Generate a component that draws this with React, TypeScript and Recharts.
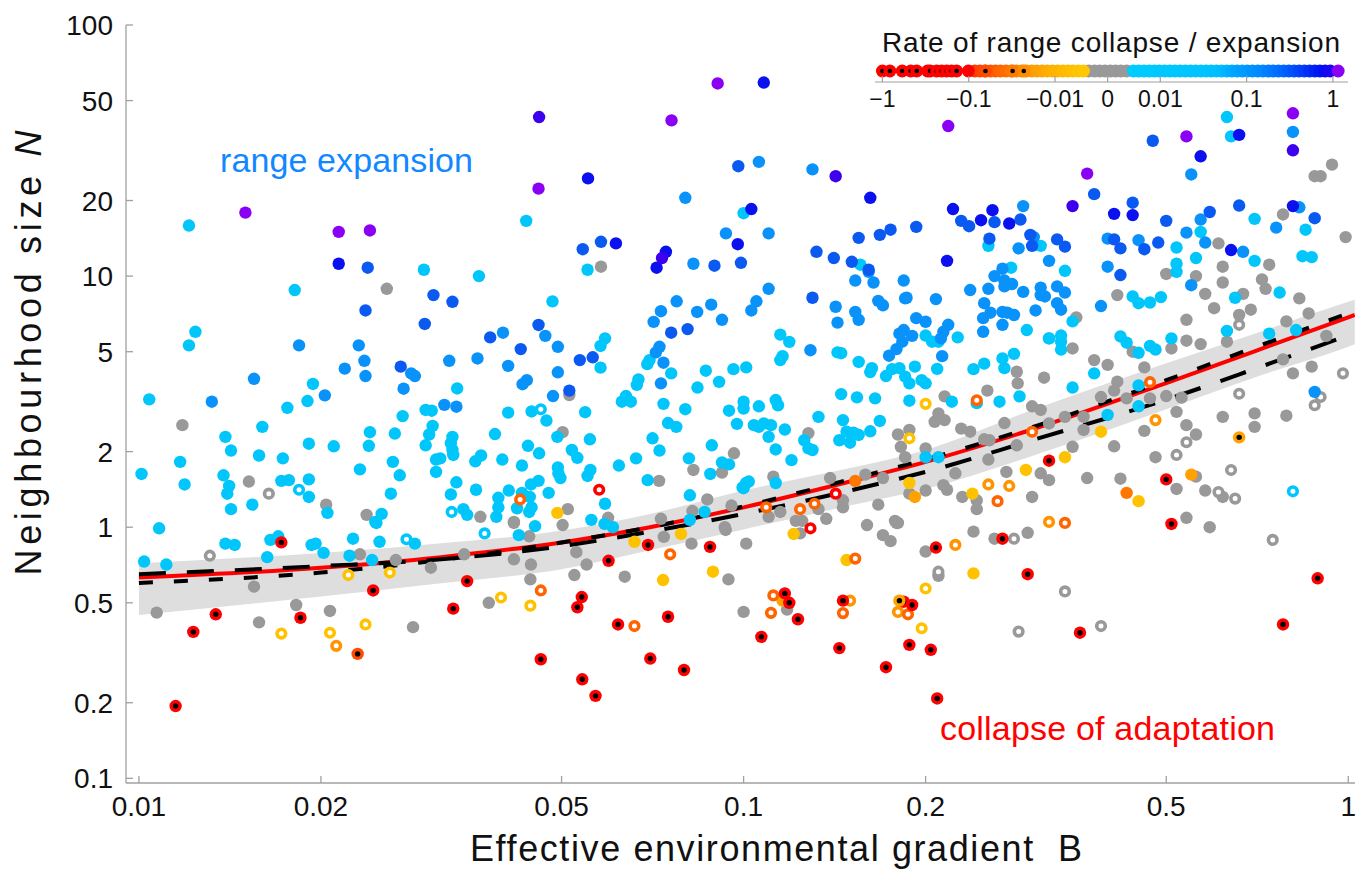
import React from 'react';
import { ComposedChart, ScatterChart, Scatter, Line, Area, XAxis, YAxis } from 'recharts';

const FONT = '"Liberation Sans", Arial, Helvetica, sans-serif';
const AXIS = '#a0a0a0';

const xTicks = [0.01, 0.02, 0.05, 0.1, 0.2, 0.5, 1];
const yTicks = [0.1, 0.2, 0.5, 1, 2, 5, 10, 20, 50, 100];

// fitted curves
const curveB = [0.01, 0.02, 0.0316, 0.05, 0.07, 0.1, 0.15, 0.2, 0.3, 0.5, 0.7, 1.0, 1.025];
const redFit = [0.63, 0.69, 0.76, 0.87, 1.0, 1.2, 1.52, 1.82, 2.45, 3.75, 5.02, 6.85, 7.0];
const dashLong = [0.65, 0.7, 0.745, 0.84, 0.96, 1.13, 1.4, 1.66, 2.22, 3.22, 4.27, 5.82, 5.95];
const dashShort = [0.6, 0.66, 0.74, 0.87, 1.0, 1.21, 1.55, 1.86, 2.5, 3.85, 5.2, 7.1, 7.25];
const bandLo = [0.447, 0.53, 0.598, 0.68, 0.81, 0.98, 1.22, 1.42, 1.92, 2.95, 3.95, 5.23, 5.35];
const bandHi = [0.718, 0.79, 0.863, 0.97, 1.13, 1.4, 1.72, 2.03, 2.93, 4.5, 5.9, 7.9, 8.05];

// simulation runs: [B, N], grouped by rate colour
const purplePts = [[0.015, 17.9], [0.0214, 15.0], [0.0241, 15.2], [0.0906, 58.5], [0.076, 41.7], [0.0458, 22.3], [0.218, 39.6], [0.54, 36], [0.37, 25.6], [0.81, 44.5]];
const indigoPts = [[0.0459, 43], [0.0733, 11.8], [0.142, 25.0], [0.81, 31.7], [0.35, 19]];
const darkbluePts = [[0.0214, 11.2], [0.0553, 24.5], [0.0615, 13.5], [0.0744, 12.5], [0.0718, 10.8], [0.0978, 13.4], [0.108, 59], [0.162, 20.5], [0.103, 18.5], [0.222, 18.5], [0.247, 16.7], [0.258, 18.3], [0.275, 16.2], [0.217, 11.5], [0.66, 36.5], [0.57, 30], [0.41, 17.7], [0.44, 17.5], [0.64, 12.7], [0.81, 19]];
const bluePts = [[0.0239, 10.8], [0.098, 27.4], [0.0542, 12.8], [0.0581, 13.7], [0.0895, 11.0], [0.099, 11.3], [0.229, 16.6], [0.236, 15.8], [0.26, 16.4], [0.287, 16.8], [0.298, 14.6], [0.3, 13.2], [0.255, 14.1], [0.193, 15.7], [0.175, 15.3], [0.168, 14.6], [0.155, 14.2], [0.132, 12.5], [0.141, 11.8], [0.151, 11.4], [0.161, 10.6], [0.475, 34.6], [0.5, 16.6], [0.59, 18.0], [0.88, 17], [0.33, 14], [0.34, 13.1], [0.41, 14.0], [0.42, 12.9], [0.46, 12.8], [0.485, 13.6], [0.42, 10.1], [0.0237, 7.3], [0.0297, 6.45], [0.0307, 8.4], [0.0271, 4.36], [0.0381, 5.7], [0.0458, 6.39], [0.0428, 5.12], [0.0536, 4.63], [0.0563, 4.75], [0.0515, 3.5], [0.033, 7.9], [0.13, 8.2], [0.0759, 5.95], [0.0808, 6.15], [0.38, 21.2], [0.44, 19.6], [0.66, 19.1]];
const skyPts = [[0.0801, 20.5], [0.0935, 14.8], [0.0826, 11.2], [0.106, 28.5], [0.11, 14.8], [0.13, 26.6], [0.29, 19.0], [0.302, 14.3], [0.285, 12.9], [0.268, 10.7], [0.55, 25.4], [0.81, 37.5], [0.57, 16.8], [0.83, 18.8], [0.76, 15.6], [0.54, 14.9], [0.58, 13.6], [0.67, 12.5], [0.4, 14.1], [0.45, 13.9], [0.32, 11.5], [0.4, 10.9], [0.0155, 3.9], [0.0132, 3.16], [0.0231, 5.3], [0.0236, 4.6], [0.0237, 4.0], [0.0219, 4.28], [0.0282, 4.1], [0.0286, 4.0], [0.0274, 3.56], [0.0203, 3.35], [0.0184, 5.3], [0.04, 5.95], [0.047, 5.78], [0.0493, 5.23], [0.0326, 4.6], [0.0363, 4.7], [0.0408, 4.39], [0.0493, 4.14], [0.0438, 3.85], [0.0431, 3.71], [0.0484, 3.33], [0.032, 3.07], [0.0335, 3.02], [0.071, 6.57], [0.073, 7.25], [0.0775, 7.94], [0.0838, 7.2], [0.0884, 7.7], [0.0921, 6.7], [0.0726, 5.23], [0.0716, 4.97], [0.0737, 4.52], [0.073, 3.74], [0.11, 8.9], [0.105, 7.94], [0.103, 7.3], [0.142, 7.55], [0.153, 7.2], [0.155, 6.7], [0.143, 6.53], [0.153, 9.6], [0.164, 9.43], [0.161, 10.4], [0.184, 9.6], [0.167, 7.97], [0.17, 7.65], [0.185, 8.15], [0.186, 8.2], [0.208, 8.1], [0.193, 6.8], [0.2, 6.58], [0.218, 6.4], [0.214, 6.0], [0.212, 5.65], [0.26, 10], [0.27, 9.6], [0.278, 9.3], [0.27, 9.1], [0.237, 8.8], [0.254, 8.9], [0.29, 8.65], [0.31, 9.0], [0.31, 8.4], [0.25, 7.8], [0.256, 7.15], [0.249, 6.8], [0.268, 7.2], [0.273, 7.15], [0.28, 7.0], [0.268, 6.4], [0.304, 7.3], [0.249, 6.0], [0.129, 5.07], [0.174, 4.82], [0.179, 5.12], [0.183, 5.48], [0.181, 5.9], [0.184, 6.1], [0.19, 5.78], [0.213, 4.8], [0.33, 9.1], [0.34, 8.6], [0.315, 8.3], [0.33, 7.8], [0.335, 7.35], [0.39, 7.6], [0.55, 9.2], [0.88, 3.46]];
const cyanPts = [[0.0121, 15.9], [0.0296, 10.6], [0.0437, 16.6], [0.1, 17.8], [0.0552, 10.6], [0.0365, 10.0], [0.156, 11.1], [0.31, 13.2], [0.254, 13.2], [0.277, 10.8], [0.63, 43], [0.64, 36], [0.7, 16.9], [0.85, 15.3], [0.57, 15.0], [0.7, 11.5], [0.84, 12.0], [0.87, 11.9], [0.52, 13.0], [0.52, 11.2], [0.56, 11.8], [0.34, 10.5], [0.52, 10.4],
  [0.0181, 8.8], [0.0124, 6.0], [0.0121, 5.3], [0.0104, 3.23], [0.0194, 3.72], [0.019, 3.18], [0.0176, 2.99], [0.0273, 2.77], [0.0298, 2.93], [0.0305, 2.91], [0.0306, 2.53], [0.0302, 2.34], [0.0298, 2.12], [0.016, 2.51], [0.0139, 2.29], [0.0142, 2.02], [0.0241, 2.39], [0.0265, 2.36], [0.0191, 2.15], [0.021, 2.1], [0.024, 2.11], [0.0117, 1.82], [0.0101, 1.63], [0.0119, 1.48], [0.0138, 1.61], [0.0141, 1.46], [0.014, 1.36], [0.0142, 1.18], [0.0158, 1.93], [0.0173, 1.88], [0.0154, 1.23], [0.0172, 1.53], [0.0177, 1.54], [0.0191, 1.55], [0.0191, 1.32], [0.0205, 1.14], [0.0232, 1.7], [0.0263, 1.82], [0.027, 1.61], [0.0261, 1.36], [0.031, 1.86], [0.031, 1.66], [0.0252, 1.13], [0.0246, 1.05], [0.0247, 1.04], [0.0108, 0.99], [0.0102, 0.73], [0.0111, 0.71], [0.0139, 0.86], [0.0144, 0.85], [0.0163, 0.76], [0.0165, 0.89], [0.017, 0.92], [0.0193, 0.85], [0.0196, 0.86], [0.0202, 0.79], [0.0226, 0.9], [0.0223, 0.77], [0.025, 0.875], [0.0243, 0.74], [0.0286, 0.86],
  [0.0483, 7.93], [0.059, 5.65], [0.058, 5.27], [0.058, 4.32], [0.0336, 3.57], [0.0408, 2.86], [0.0446, 2.89], [0.0472, 2.66], [0.0547, 2.87], [0.0492, 2.29], [0.0388, 2.35], [0.033, 2.29], [0.0328, 2.16], [0.033, 2.03], [0.0331, 1.94], [0.0315, 1.88], [0.044, 2.11], [0.0459, 1.97], [0.0557, 2.24], [0.052, 2.03], [0.0531, 1.89], [0.0368, 1.93], [0.036, 1.83], [0.0399, 1.86], [0.043, 1.76], [0.0493, 1.73], [0.0494, 1.64], [0.0498, 1.57], [0.0558, 1.69], [0.0552, 1.6], [0.0622, 1.76], [0.0664, 1.88], [0.0707, 2.26], [0.0726, 2.02], [0.0737, 3.1], [0.075, 2.6], [0.0774, 2.51], [0.0801, 2.95], [0.0946, 2.91], [0.0975, 2.58], [0.0886, 2.12], [0.0812, 1.88], [0.0921, 1.81], [0.0946, 1.78], [0.0881, 1.63], [0.0694, 1.54], [0.0996, 1.44], [0.0815, 1.34], [0.0335, 1.51], [0.0361, 1.41], [0.0328, 1.35], [0.0409, 1.4], [0.0393, 1.31], [0.0393, 1.2], [0.039, 1.1], [0.043, 1.37], [0.0443, 1.32], [0.0446, 1.2], [0.0442, 1.15], [0.0458, 1.53], [0.0445, 1.48], [0.0422, 1.19], [0.0476, 1.37], [0.059, 1.24], [0.0344, 1.18], [0.0349, 1.12], [0.056, 1.07], [0.0589, 1.03], [0.0608, 1.0], [0.0815, 1.07], [0.0862, 1.15], [0.0452, 1.01], [0.0425, 0.93], [0.0699, 4.63], [0.0693, 4.46], [0.0759, 4.1], [0.067, 3.88], [0.0666, 3.69], [0.0639, 3.33], [0.0629, 3.16], [0.0651, 3.16], [0.0866, 4.2], [0.0839, 3.6], [0.0911, 3.79], [0.0962, 4.26],
  [0.115, 5.85], [0.119, 5.47], [0.116, 4.8], [0.115, 4.63], [0.143, 4.97], [0.145, 4.93], [0.155, 4.55], [0.226, 5.7], [0.2, 5.8], [0.205, 5.48], [0.21, 5.48], [0.192, 4.36], [0.209, 4.27], [0.176, 4.26], [0.172, 4.0], [0.181, 4.3], [0.185, 3.98], [0.188, 3.74], [0.163, 4.3], [0.162, 4.15], [0.197, 3.85], [0.2, 3.74], [0.24, 4.26], [0.25, 4.48], [0.268, 4.7], [0.27, 4.3], [0.28, 4.9], [0.294, 6.1], [0.32, 5.65], [0.286, 3.32], [0.221, 3.16], [0.265, 3.16], [0.188, 3.19], [0.243, 3.12], [0.2, 1.9], [0.21, 1.9], [0.113, 1.5], [0.101, 1.5], [0.102, 1.52], [0.126, 2.22], [0.128, 2.06], [0.13, 2.03], [0.12, 1.85], [0.113, 2.04], [0.117, 2.45], [0.11, 2.29], [0.104, 2.55], [0.106, 2.51], [0.108, 2.59], [0.111, 2.55], [0.106, 3.03], [0.113, 3.21], [0.114, 3.06], [0.1, 3.16], [0.1, 2.97], [0.101, 4.33], [0.133, 2.75], [0.145, 3.39], [0.154, 3.29], [0.165, 3.26], [0.146, 2.67], [0.168, 2.65], [0.162, 2.41], [0.144, 2.22], [0.15, 2.17], [0.152, 2.38], [0.155, 2.33], [0.148, 2.4], [0.1, 1.43],
  [0.44, 8.3], [0.45, 7.8], [0.47, 7.85], [0.49, 8.25], [0.65, 8.2], [0.77, 8.6], [0.63, 6.05], [0.74, 5.9], [0.82, 6.1], [0.35, 6.6], [0.32, 5.65], [0.335, 5.8], [0.335, 5.48], [0.335, 5.1], [0.42, 5.75], [0.43, 5.43], [0.45, 4.95], [0.47, 5.27], [0.48, 5.1], [0.51, 5.65], [0.38, 4.1], [0.35, 3.6], [0.45, 3.67], [0.45, 3.03], [0.4, 2.8]];
const grayPts = [[0.0581, 10.9], [0.94, 27.8], [0.88, 25], [0.9, 25], [0.78, 17.6], [0.99, 14.3], [0.61, 13.5], [0.74, 11.1], [0.5, 10.2], [0.62, 10.9], [0.0257, 8.9], [0.0118, 2.55], [0.0152, 1.52], [0.0204, 1.23], [0.0238, 1.12], [0.0232, 0.78], [0.0266, 0.74], [0.0304, 0.69], [0.0155, 0.58], [0.0107, 0.457], [0.0158, 0.418], [0.0182, 0.49], [0.0207, 0.464], [0.0284, 0.4], [0.0515, 3.36], [0.0502, 2.39], [0.0964, 1.97], [0.0826, 1.69], [0.0921, 1.65], [0.0725, 1.53], [0.0871, 1.29], [0.0512, 1.18], [0.0367, 1.1], [0.0417, 1.05], [0.0502, 1.02], [0.0597, 1.09], [0.073, 1.08], [0.0823, 1.16], [0.0955, 1.22], [0.0931, 1.0],
  [0.283, 4.16], [0.284, 3.74], [0.314, 3.94], [0.253, 3.5], [0.215, 3.32], [0.3, 3.03], [0.31, 2.93], [0.21, 2.84], [0.207, 2.63], [0.215, 2.67], [0.27, 2.6], [0.229, 2.47], [0.237, 2.4], [0.18, 2.34], [0.188, 2.44], [0.182, 2.09], [0.185, 1.9], [0.2, 2.06], [0.25, 2.24], [0.255, 2.22], [0.283, 2.12], [0.254, 1.86], [0.224, 1.64], [0.272, 1.66], [0.31, 1.64], [0.32, 1.54], [0.2, 1.4], [0.214, 1.47], [0.217, 1.41], [0.188, 1.36], [0.23, 1.32], [0.243, 1.28], [0.243, 1.18], [0.3, 1.32], [0.167, 1.23], [0.178, 1.06], [0.18, 1.04], [0.159, 1.62], [0.17, 1.57], [0.139, 1.57], [0.146, 1.28], [0.146, 1.2], [0.133, 1.18], [0.137, 1.08], [0.125, 1.06], [0.122, 1.06], [0.115, 1.15], [0.11, 1.1], [0.112, 1.59], [0.128, 2.37],
  [0.56, 10], [0.62, 9.43], [0.72, 9.7], [0.73, 8.9], [0.415, 8.4], [0.58, 8.5], [0.6, 7.45], [0.67, 8.5], [0.69, 7.35], [0.66, 7.0], [0.83, 8.15], [0.86, 7.1], [0.79, 6.6], [0.54, 6.7], [0.63, 5.48], [0.92, 5.78], [0.54, 5.53], [0.57, 5.36], [0.355, 6.85], [0.35, 5.15], [0.44, 5.0], [0.51, 5.15], [0.38, 4.63], [0.4, 4.43], [0.46, 4.33], [0.415, 3.8], [0.41, 3.5], [0.39, 3.3], [0.43, 3.26], [0.47, 3.26], [0.5, 3.33], [0.53, 3.28], [0.52, 2.88], [0.365, 2.75], [0.365, 2.44], [0.34, 2.75], [0.32, 2.59], [0.46, 2.42], [0.41, 2.1], [0.35, 2.09], [0.48, 1.9], [0.54, 2.55], [0.56, 2.34], [0.62, 2.75], [0.7, 2.84], [0.7, 2.51], [0.79, 2.78], [0.78, 4.66], [0.81, 4.1], [0.87, 4.36], [0.37, 1.57], [0.42, 1.56], [0.56, 1.59], [0.52, 1.42], [0.58, 1.4], [0.62, 1.32], [0.54, 1.09], [0.59, 1.0],
  [0.124, 0.945], [0.101, 0.86], [0.16, 1.02], [0.17, 0.93], [0.175, 0.88], [0.179, 1.04], [0.24, 0.96], [0.26, 0.9], [0.295, 0.95], [0.2, 0.8], [0.21, 0.64], [0.118, 0.47], [0.1, 0.46],
  [0.0417, 1.04], [0.0442, 0.92], [0.0417, 0.745], [0.0445, 0.71], [0.0444, 0.62], [0.0345, 0.78], [0.0379, 0.5], [0.0529, 0.795], [0.055, 0.71], [0.0525, 0.645], [0.0636, 0.635], [0.0738, 0.915], [0.082, 0.86], [0.0944, 0.62], [0.0934, 0.975]];
const grayRingPts = [[0.0164, 1.36], [0.0131, 0.77], [0.66, 6.4], [0.52, 1.94], [0.54, 2.18], [0.66, 3.4], [0.98, 4.1], [0.9, 3.3], [0.88, 3.06], [0.61, 1.38], [0.64, 1.69], [0.65, 1.3], [0.75, 0.89], [0.34, 0.555], [0.39, 0.404], [0.28, 0.9], [0.21, 0.665], [0.285, 0.384]];
const cyanRingPts = [[0.0184, 1.41], [0.0277, 0.895], [0.0462, 2.95], [0.0329, 1.15], [0.0373, 0.945], [0.81, 1.39]];
const goldPts = [[0.0492, 1.14], [0.293, 1.69], [0.188, 1.5], [0.239, 1.36], [0.39, 2.4], [0.34, 1.9], [0.45, 1.27], [0.121, 0.94], [0.148, 0.74], [0.24, 0.655], [0.066, 0.875], [0.0788, 0.94], [0.0736, 0.616], [0.089, 0.665]];
const amberPts = [[0.192, 1.32], [0.55, 1.62], [0.116, 0.51]];
const orangePts = [[0.153, 1.53], [0.43, 1.37]];
const goldRingPts = [[0.0222, 0.645], [0.026, 0.66], [0.0172, 0.377], [0.0207, 0.38], [0.0237, 0.41], [0.2, 3.1], [0.188, 2.26], [0.0397, 0.525], [0.0444, 0.487], [0.2, 0.57], [0.197, 0.396]];
const amberRingPts = [[0.0212, 0.337], [0.48, 2.67], [0.254, 1.48], [0.275, 1.46], [0.15, 0.51], [0.18, 0.46], [0.224, 0.85], [0.32, 1.05]];
const orangeRingPts = [[0.0427, 1.29], [0.243, 3.2], [0.3, 2.4], [0.263, 1.27], [0.131, 1.24], [0.124, 1.18], [0.109, 1.2], [0.47, 3.78], [0.34, 1.04], [0.153, 0.75], [0.112, 0.535], [0.111, 0.456], [0.146, 0.455], [0.187, 0.45], [0.0462, 0.56], [0.0756, 0.78], [0.066, 0.404]];
const redRingPts = [[0.0577, 1.41], [0.142, 1.36], [0.129, 0.99]];
const collapsePts = [[0.0172, 0.87], [0.0244, 0.56], [0.0134, 0.45], [0.0123, 0.383], [0.0185, 0.436], [0.0115, 0.194], [0.32, 1.84], [0.5, 1.55], [0.51, 1.03], [0.89, 0.626], [0.36, 0.38], [0.78, 0.41], [0.268, 0.9], [0.208, 0.83], [0.295, 0.65], [0.117, 0.545], [0.119, 0.5], [0.123, 0.43], [0.107, 0.366], [0.146, 0.51], [0.144, 0.33], [0.184, 0.505], [0.19, 0.49], [0.188, 0.34], [0.204, 0.325], [0.172, 0.277], [0.209, 0.208], [0.0349, 0.61], [0.0331, 0.474], [0.054, 0.527], [0.0531, 0.48], [0.0598, 0.735], [0.0695, 0.85], [0.088, 0.835], [0.062, 0.41], [0.075, 0.44], [0.0462, 0.298], [0.0701, 0.3], [0.0797, 0.27], [0.0541, 0.248], [0.0569, 0.213]];
const orangeCollapsePts = [[0.023, 0.313]];
const amberCollapsePts = [[0.66, 2.28], [0.181, 0.51]];

// colour bar: rates shown along the legend axis
const legendTickRates = [-1, -0.1, -0.01, 0, 0.01, 0.1, 1];
const legendTickLabels = ['\u22121', '\u22120.1', '\u22120.01', '0', '0.01', '0.1', '1'];
const legendCollapse = [-1.0, -0.82, -0.59, -0.47, -0.4, -0.3, -0.28, -0.235, -0.206, -0.18, -0.158, -0.138];
const legendRed = [-0.101];
const legendWarm = [-0.085, -0.074, -0.065, -0.056, -0.049, -0.043, -0.037, -0.032, -0.028, -0.0245, -0.0214, -0.0186, -0.0162, -0.0141, -0.0123, -0.0107, -0.0095, -0.0085, -0.0075, -0.0066, -0.0056, -0.0046];
const legendWarmCollapse = [-0.064, -0.031, -0.023];
const legendGray = [-0.0036, -0.0025, -0.0015, -0.0005, 0.0005, 0.0015, 0.0025, 0.0036];
const legendCool = [0.0049, 0.0059, 0.0069, 0.0079, 0.0089, 0.0098, 0.0112, 0.0129, 0.0148, 0.017, 0.0195, 0.0224, 0.0257, 0.0295, 0.0339, 0.0389, 0.0447, 0.0513, 0.0589, 0.0676, 0.0776, 0.0891, 0.102, 0.117, 0.135, 0.155, 0.178, 0.204, 0.234, 0.269, 0.309, 0.355, 0.407, 0.468, 0.537, 0.617, 0.708, 0.813, 0.933];
const legendPurple = [1.15];

const C = {
  purple: '#8a00f5', indigo: '#3c00ef', darkblue: '#0a10ee', blue: '#0a5af2', sky: '#0a92fb', cyan: '#00c6fb',
  gray: '#999999', gold: '#ffc200', amber: '#ffa200', orange: '#ff7600', redorange: '#ff4c00', red: '#ff0000',
};

const pts = (a: number[][]) => a.map(([x, y]) => ({ x, y }));
const curveRows = curveB.map((x, i) => ({
  x, red: redFit[i], dashLong: dashLong[i], dashShort: dashShort[i], band: [bandLo[i], bandHi[i]],
}));

// legend axis: log for |r| >= 0.01, linear near zero
const GAP = 0.61;
const toT = (r: number) => (Math.abs(r) >= 0.01 ? Math.sign(r) * (Math.log10(Math.abs(r)) + 2 + GAP) : (r / 0.01) * GAP);

const hexRgb = (h: string) => [1, 3, 5].map((i) => parseInt(h.slice(i, i + 2), 16));
function ramp(stops: [number, string][], t: number) {
  if (t <= stops[0][0]) return stops[0][1];
  for (let i = 1; i < stops.length; i++) {
    if (t <= stops[i][0]) {
      const [t0, c0] = stops[i - 1];
      const [t1, c1] = stops[i];
      const f = (t - t0) / (t1 - t0);
      const a = hexRgb(c0), b = hexRgb(c1);
      return `rgb(${a.map((v, k) => Math.round(v + (b[k] - v) * f)).join(',')})`;
    }
  }
  return stops[stops.length - 1][1];
}
const warmStops: [number, string][] = [[-1.54, '#ff3a00'], [-1.2, '#ff6a00'], [-0.9, '#ff9800'], [-0.6, '#ffb400'], [-0.27, '#ffc800']];
const coolStops: [number, string][] = [[0.3, '#00ccff'], [1.3, '#00c0ff'], [1.5, '#00a4ff'], [1.8, '#0088ff'], [2.05, '#0066ff'], [2.3, '#0038f8'], [2.5, '#0010f0'], [2.62, '#2a00f0']];

const legendRows = [
  ...legendGray.map((r) => ({ t: toT(r), v: 11, c: C.gray, k: 0 })),
  ...legendWarm.map((r) => ({ t: toT(r), v: 11, c: ramp(warmStops, toT(r)), k: 0 })),
  ...legendWarmCollapse.map((r) => ({ t: toT(r), v: 11, c: ramp(warmStops, toT(r)), k: 1 })),
  ...legendCool.map((r) => ({ t: toT(r), v: 11, c: ramp(coolStops, toT(r)), k: 0 })),
  ...legendPurple.map((r) => ({ t: toT(r), v: 11, c: C.purple, k: 0 })),
  ...legendRed.map((r) => ({ t: toT(r), v: 11, c: C.red, k: 0 })),
  ...legendCollapse.map((r) => ({ t: toT(r), v: 11, c: C.red, k: 1 })),
];

const R = 6.2;
const dot = (fill: string) => (p: any) => <circle cx={p.cx} cy={p.cy} r={R} fill={fill} />;
const ring = (stroke: string) => (p: any) => <circle cx={p.cx} cy={p.cy} r={4.3} fill="#ffffff" stroke={stroke} strokeWidth={3.6} />;
const collapse = (fill: string) => (p: any) => (
  <g>
    <circle cx={p.cx} cy={p.cy} r={R} fill={fill} />
    <circle cx={p.cx} cy={p.cy} r={2.7} fill="#000000" />
  </g>
);
const legendDot = (p: any) => {
  const d = p.payload || p;
  return (
    <g>
      <circle cx={p.cx} cy={p.cy} r={6.5} fill={d.c} />
      {d.k ? <circle cx={p.cx} cy={p.cy} r={2.3} fill="#000000" /> : null}
    </g>
  );
};

function XTick(props: any) {
  const { x, y, payload } = props;
  return (
    <g>
      <line x1={x} x2={x} y1={y} y2={y - 7} stroke={AXIS} strokeWidth={1.3} />
      <text x={x} y={y + 33} textAnchor="middle" fontSize={28} fontFamily={FONT} fill="#111">{String(payload.value)}</text>
    </g>
  );
}
function YTick(props: any) {
  const { x, y, payload } = props;
  return (
    <g>
      <line x1={x} x2={x + 7} y1={y} y2={y} stroke={AXIS} strokeWidth={1.3} />
      <text x={x - 13} y={y + 10} textAnchor="end" fontSize={28} fontFamily={FONT} fill="#111">{String(payload.value)}</text>
    </g>
  );
}
function LegendTick(props: any) {
  const { x, y, index } = props;
  return (
    <g>
      <line x1={x} x2={x} y1={y} y2={y - 6} stroke={AXIS} strokeWidth={1.2} />
      <text x={x} y={y + 25} textAnchor="middle" fontSize={23} fontFamily={FONT} fill="#111">{legendTickLabels[index]}</text>
    </g>
  );
}

const series: [number[][], (p: any) => React.ReactElement][] = [
  [grayPts, dot(C.gray)], [grayRingPts, ring(C.gray)],
  [cyanPts, dot(C.cyan)], [cyanRingPts, ring(C.cyan)], [skyPts, dot(C.sky)], [bluePts, dot(C.blue)],
  [darkbluePts, dot(C.darkblue)], [indigoPts, dot(C.indigo)], [purplePts, dot(C.purple)],
  [goldPts, dot(C.gold)], [amberPts, dot(C.amber)], [orangePts, dot(C.orange)],
  [goldRingPts, ring(C.gold)], [amberRingPts, ring('#ff9400')], [orangeRingPts, ring('#ff6400')], [redRingPts, ring(C.red)],
  [collapsePts, collapse(C.red)], [orangeCollapsePts, collapse(C.redorange)], [amberCollapsePts, collapse(C.amber)],
];

export default function App() {
  return (
    <div style={{ position: 'relative', width: 1355, height: 863, fontFamily: FONT }}>
      <ComposedChart width={1355} height={855} data={curveRows} margin={{ top: 17, right: 8, bottom: 0, left: 0 }}>
        <XAxis dataKey="x" type="number" scale="log" domain={[0.00952, 1.026]} allowDataOverflow ticks={xTicks}
          interval={0} height={80} tickSize={0} tickMargin={0} tickLine={false} tick={(p: any) => <XTick {...p} />}
          axisLine={{ stroke: AXIS, strokeWidth: 1.3 }} />
        <YAxis type="number" scale="log" domain={[0.0958, 100]} allowDataOverflow ticks={yTicks}
          interval={0} width={118} tickSize={0} tickMargin={0} tickLine={false} tick={(p: any) => <YTick {...p} />}
          axisLine={{ stroke: AXIS, strokeWidth: 1.3 }} />
        <Area dataKey="band" type="monotone" fill="#dedede" fillOpacity={1} stroke="none" isAnimationActive={false} />
        <Line dataKey="red" type="monotone" stroke="#ff0000" strokeWidth={4} dot={false} activeDot={false} isAnimationActive={false} />
        <Line dataKey="dashLong" type="monotone" stroke="#000000" strokeWidth={4} strokeDasharray="27 21" dot={false} activeDot={false} isAnimationActive={false} />
        <Line dataKey="dashShort" type="monotone" stroke="#000000" strokeWidth={4} strokeDasharray="14 21" dot={false} activeDot={false} isAnimationActive={false} />
        {series.map(([data, shape], i) => (
          <Scatter key={i} data={pts(data)} dataKey="y" shape={shape} isAnimationActive={false} />
        ))}
      </ComposedChart>

      <svg width={1355} height={863} style={{ position: 'absolute', left: 0, top: 0, pointerEvents: 'none', overflow: 'visible' }}>
        <text x={212} y={164} fontSize={34} fill="#1188ff" fontFamily={FONT} textLength={253} lengthAdjust="spacing">range expansion</text>
        <text x={932} y={732} fontSize={34} fill="#ff0000" fontFamily={FONT} textLength={335} lengthAdjust="spacing">collapse of adaptation</text>
        <text x={874} y={44} fontSize={28} fill="#111" fontFamily={FONT} textLength={458} lengthAdjust="spacing">Rate of range collapse / expansion</text>
        <text x={768} y={853} fontSize={36} fill="#111" fontFamily={FONT} textAnchor="middle" textLength={612} lengthAdjust="spacing" style={{ whiteSpace: 'pre' }}>{'Effective environmental gradient  B'}</text>
        <text transform="translate(33,345) rotate(-90)" fontSize={36} fill="#111" fontFamily={FONT} textAnchor="middle" textLength={445} lengthAdjust="spacing">
          Neighbourhood size <tspan fontStyle="italic">N</tspan>
        </text>
      </svg>

      <div style={{ position: 'absolute', left: 847, top: 43.7 }}>
        <ScatterChart width={513} height={60} margin={{ top: 0, right: 20, bottom: 0, left: 20 }}>
          <XAxis dataKey="t" type="number" domain={[-2.696, 2.785]} allowDataOverflow ticks={legendTickRates.map(toT)}
            interval={0} height={30} tickSize={0} tickMargin={0} tickLine={false} tick={(p: any) => <LegendTick {...p} />}
            axisLine={{ stroke: AXIS, strokeWidth: 1.2 }} />
          <YAxis dataKey="v" type="number" domain={[0, 30]} hide />
          <Scatter data={legendRows} shape={legendDot} isAnimationActive={false} />
        </ScatterChart>
      </div>
    </div>
  );
}
